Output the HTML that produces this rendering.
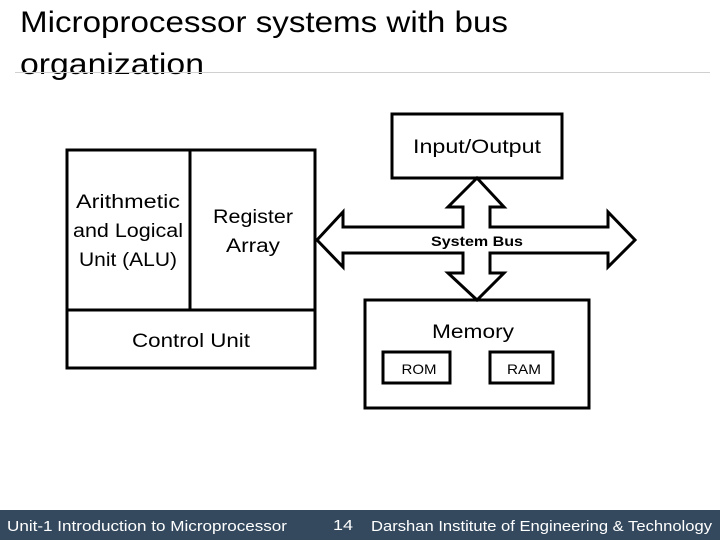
<!DOCTYPE html>
<html><head><style>
html,body{margin:0;padding:0;background:#fff;}
svg{display:block;}
text{font-family:"Liberation Sans",sans-serif;fill:#000;}
</style></head><body>
<svg width="720" height="540" viewBox="0 0 720 540" xmlns="http://www.w3.org/2000/svg">
<rect width="720" height="540" fill="#fff"/>
<text x="20" y="32" font-size="30" textLength="488" lengthAdjust="spacingAndGlyphs">Microprocessor systems with bus</text>
<text x="20" y="74" font-size="30" textLength="184" lengthAdjust="spacingAndGlyphs">organization</text>
<line x1="15" y1="72.5" x2="710" y2="72.5" stroke="#d0d0d0" stroke-width="1"/>

<g fill="none" stroke="#000" stroke-width="3">
<rect x="67" y="150" width="248" height="218"/>
<line x1="67" y1="310" x2="315" y2="310"/>
<line x1="190" y1="150" x2="190" y2="310"/>
<rect x="392" y="114" width="170" height="64"/>
<rect x="365" y="300" width="224" height="108"/>
<rect x="383" y="352" width="67" height="31"/>
<rect x="490" y="352" width="63" height="31"/>
<path d="M317,240 L343,212 L343,227 L463,227 L463,207 L448,207 L477,178 L504,207 L490,207 L490,227 L608,227 L608,212 L635,240 L608,267 L608,253 L490,253 L490,273 L504,273 L477,300 L448,273 L463,273 L463,253 L343,253 L343,267 Z" fill="#fff"/>
</g>

<g font-size="19" text-anchor="middle">
<text x="128" y="208" textLength="104" lengthAdjust="spacingAndGlyphs">Arithmetic</text>
<text x="128" y="237" textLength="110" lengthAdjust="spacingAndGlyphs">and Logical</text>
<text x="128" y="266" textLength="98" lengthAdjust="spacingAndGlyphs">Unit (ALU)</text>
<text x="253" y="223" textLength="80" lengthAdjust="spacingAndGlyphs">Register</text>
<text x="253" y="252" textLength="54" lengthAdjust="spacingAndGlyphs">Array</text>
<text x="191" y="347" textLength="118" lengthAdjust="spacingAndGlyphs">Control Unit</text>
<text x="477" y="153" textLength="128" lengthAdjust="spacingAndGlyphs">Input/Output</text>
<text x="473" y="338" textLength="82" lengthAdjust="spacingAndGlyphs">Memory</text>
</g>
<text x="477" y="246" font-size="14" font-weight="bold" text-anchor="middle" textLength="92" lengthAdjust="spacingAndGlyphs">System Bus</text>
<text x="419" y="374" font-size="14" text-anchor="middle" textLength="35" lengthAdjust="spacingAndGlyphs">ROM</text>
<text x="524" y="374" font-size="14" text-anchor="middle" textLength="34" lengthAdjust="spacingAndGlyphs">RAM</text>

<rect x="0" y="510" width="720" height="30" fill="#34495e"/>
<g font-size="15" style="fill:#fff">
<text x="7" y="531" style="fill:#fff" textLength="280" lengthAdjust="spacingAndGlyphs">Unit-1 Introduction to Microprocessor</text>
<text x="333" y="530" style="fill:#fff" textLength="20" lengthAdjust="spacingAndGlyphs">14</text>
<text x="371" y="531" style="fill:#fff" textLength="341" lengthAdjust="spacingAndGlyphs">Darshan Institute of Engineering &amp; Technology</text>
</g>
</svg>
</body></html>
